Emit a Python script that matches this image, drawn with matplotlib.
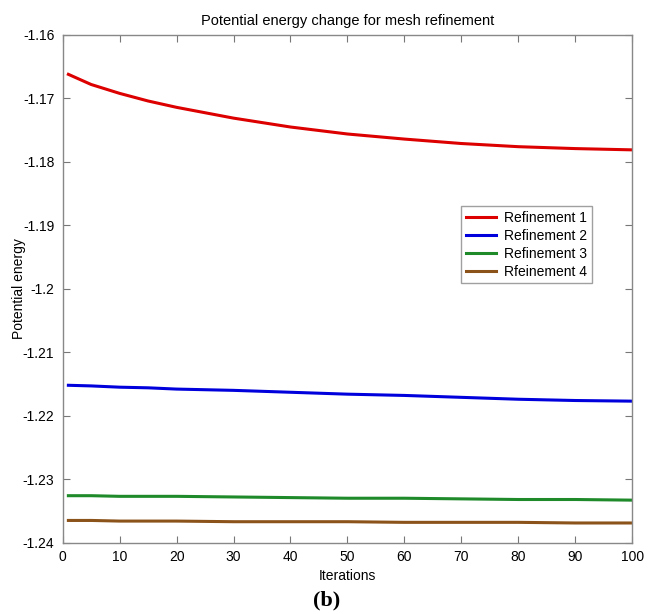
import matplotlib
matplotlib.use("Agg")
import matplotlib.pyplot as plt

iterations = [1, 5, 10, 15, 20, 30, 40, 50, 60, 70, 80, 90, 100]
refinement1 = [-1.1662, -1.1678, -1.1692, -1.1704, -1.1714, -1.1731, -1.1745, -1.1756,
               -1.1764, -1.1771, -1.1776, -1.1779, -1.1781]
refinement2 = [-1.2152, -1.2153, -1.2155, -1.2156, -1.2158, -1.2160, -1.2163, -1.2166,
               -1.2168, -1.2171, -1.2174, -1.2176, -1.2177]
refinement3 = [-1.2326, -1.2326, -1.2327, -1.2327, -1.2327, -1.2328, -1.2329, -1.2330,
               -1.2330, -1.2331, -1.2332, -1.2332, -1.2333]
refinement4 = [-1.2365, -1.2365, -1.2366, -1.2366, -1.2366, -1.2367, -1.2367, -1.2367,
               -1.2368, -1.2368, -1.2368, -1.2369, -1.2369]
labels = ["Refinement 1", "Refinement 2", "Refinement 3", "Rfeinement 4"]
colors = ["#dd0000", "#0000dd", "#1e8a2a", "#8b5219"]
xticks = list(range(0, 101, 10))
yticks = [-1.24, -1.23, -1.22, -1.21, -1.2, -1.19, -1.18, -1.17, -1.16]
ytick_labels = ["-1.24", "-1.23", "-1.22", "-1.21", "-1.2", "-1.19", "-1.18", "-1.17", "-1.16"]

plt.rcParams['font.family'] = ['Liberation Sans', 'DejaVu Sans']

fig = plt.figure(figsize=(6.53, 6.14), dpi=100)
ax = fig.add_axes([0.096, 0.1162, 0.872, 0.8268])

for ys, lab, c in zip([refinement1, refinement2, refinement3, refinement4], labels, colors):
    ax.plot(iterations, ys, color=c, lw=2.2, label=lab)

ax.set_xlim(0, 100)
ax.set_ylim(-1.24, -1.16)
ax.set_xticks(xticks)
ax.set_yticks(yticks)
ax.set_yticklabels(ytick_labels)
ax.tick_params(direction='in', top=True, right=True, length=5, width=0.8,
               color='#777777', labelsize=10)
ax.tick_params(axis='y', pad=6)
ax.tick_params(axis='x', pad=5)
for s in ax.spines.values():
    s.set_color('#888888')
    s.set_linewidth(1.0)

ax.set_title("Potential energy change for mesh refinement", fontsize=10.5, pad=7)
ax.set_xlabel("Iterations", fontsize=10, labelpad=4)
ax.set_ylabel("Potential energy", fontsize=10)
ax.yaxis.set_label_coords(-0.064, 0.5)

leg = ax.legend(loc='upper left', bbox_to_anchor=(0.699, 0.663), fontsize=10,
                frameon=True, fancybox=False, edgecolor='#888888',
                handlelength=2.2, handletextpad=0.6, labelspacing=0.28,
                borderpad=0.35, borderaxespad=0)
leg.get_frame().set_linewidth(1.0)

fig.text(0.5, 0.005, "(b)", ha='center', va='bottom', fontsize=16,
         fontweight='bold', family=['Liberation Serif', 'DejaVu Serif'])

fig.savefig("out.png", dpi=100, facecolor='white')
